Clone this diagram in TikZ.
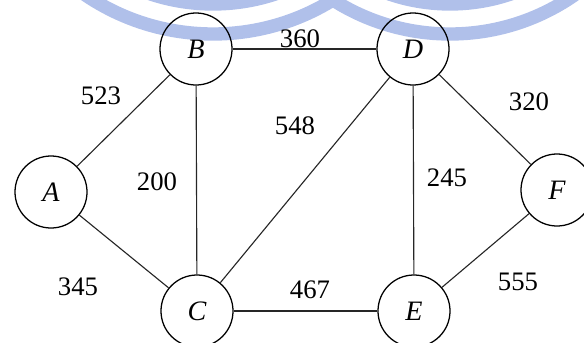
\documentclass[tikz,border=0pt]{standalone}
\usepackage{fontspec}
\setmainfont{Liberation Serif}
\usetikzlibrary{positioning}
\definecolor{markblue}{RGB}{176,192,234}

\begin{document}
\begin{tikzpicture}[x=0.025cm,y=-0.025cm,
		city/.style={draw, circle, line width=0.9pt, minimum size=1.8cm, inner sep=0pt,
			font=\fontsize{20}{22}\selectfont\itshape, text height=1.3em, text depth=0pt},
		road/.style={line width=0.8pt, black!85},
		ring/.style={markblue, line width=9.5pt},
		dist/.style={inner sep=1pt, font=\fontsize{19}{21}\selectfont}]
		\useasboundingbox (0,0) rectangle (584,342);
		\begin{scope}
		\clip (0,0) rectangle (584,342);
		% faint double rings at the top
		\draw [ring] (213,-194) circle [radius=228];
		\draw [ring] (213,-194) circle [radius=198];
		\draw [ring] (450,-184) circle [radius=218];
		\draw [ring] (450,-184) circle [radius=188];
		% cities
		\node [city] (a) at (51,192) {A};
		\node [city] (b) at (196,49) {B};
		\node [city] (c) at (197,311) {C};
		\node [city] (d) at (413,49) {D};
		\node [city] (e) at (414,311) {E};
		\node [city] (f) at (557,190) {F};
		% roads
		\draw [road] (a) -- (b);
		\draw [road] (a) -- (c);
		\draw [road] (b) -- (c);
		\draw [road] (b) -- (d);
		\draw [road] (c) -- (d);
		\draw [road] (c) -- (e);
		\draw [road] (d) -- (e);
		\draw [road] (d) -- (f);
		\draw [road] (e) -- (f);
		% distances
		\node [dist] (ab) at (101,96) {523};
		\node [dist] (ac) at (78,287) {345};
		\node [dist] (bc) at (157,182) {200};
		\node [dist] (bd) at (300,39) {360};
		\node [dist] (cd) at (295,126) {548};
		\node [dist] (ce) at (310,290) {467};
		\node [dist] (de) at (447,178) {245};
		\node [dist] (df) at (529,102) {320};
		\node [dist] (ef) at (518,282) {555};
		\end{scope}
	\end{tikzpicture}
\end{document}
